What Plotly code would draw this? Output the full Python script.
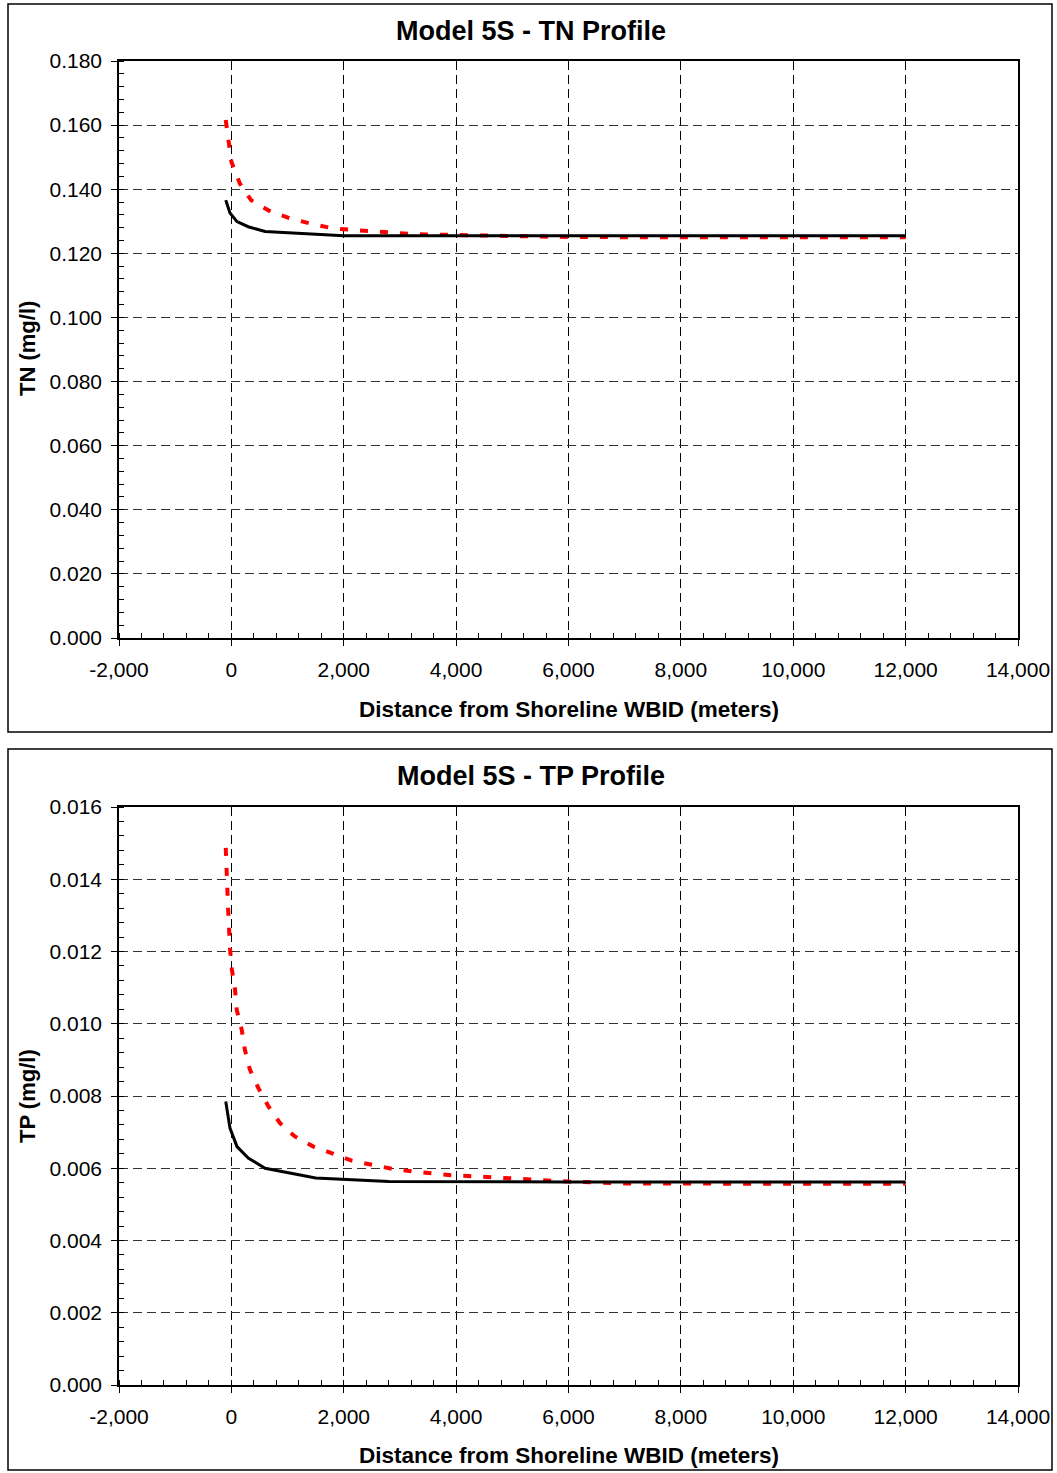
import plotly.graph_objects as go

# ---------------- data ----------------
tn_black_x = [-100, -25, 100, 300, 600, 2000, 4000, 6000, 8000, 10000, 12000]
tn_black_y = [0.1366, 0.1326, 0.1299, 0.1283, 0.1268, 0.1255, 0.1255, 0.1255, 0.1255, 0.1255, 0.1255]

tn_red_x = [-100, -50, 0, 150, 350, 700, 1050, 1450, 1800, 2150, 2500, 2900, 3250, 4000,
            5000, 6000, 8000, 10000, 12000]
tn_red_y = [0.1616, 0.1543, 0.1486, 0.1418, 0.1366, 0.1330, 0.1309, 0.1291, 0.1278, 0.1273,
            0.1268, 0.1264, 0.1260, 0.1257, 0.1253, 0.1251, 0.1250, 0.1250, 0.1250]

tp_black_x = [-100, -25, 100, 300, 600, 1500, 2800, 4000, 6000, 8000, 10000, 12000]
tp_black_y = [0.00785, 0.00711, 0.00660, 0.00628, 0.00600, 0.00573, 0.00563, 0.00562,
              0.00562, 0.00562, 0.00562, 0.00562]

tp_red_x = [-100, -80, -60, -25, 5, 65, 95, 185, 240, 330, 480, 660, 865, 1130, 1460, 1780,
            2140, 2520, 2880, 3240, 3590, 3950, 4300, 4660, 5000, 5370, 6000, 7000, 8000,
            10000, 12000]
tp_red_y = [0.01487, 0.01380, 0.01325, 0.01210, 0.01154, 0.01094, 0.01039, 0.00983, 0.00928,
            0.00873, 0.00822, 0.00771, 0.00725, 0.00688, 0.00660, 0.00642, 0.00621, 0.00609,
            0.00598, 0.00591, 0.00586, 0.00580, 0.00578, 0.00575, 0.00573, 0.00570, 0.00563,
            0.00558, 0.00557, 0.00557, 0.00557]

x_tickvals = [-2000, 0, 2000, 4000, 6000, 8000, 10000, 12000, 14000]
x_ticktext = ["-2,000", "0", "2,000", "4,000", "6,000", "8,000", "10,000", "12,000", "14,000"]

tn_tickvals = [0.0, 0.02, 0.04, 0.06, 0.08, 0.10, 0.12, 0.14, 0.16, 0.18]
tn_ticktext = ["0.000", "0.020", "0.040", "0.060", "0.080", "0.100", "0.120", "0.140", "0.160", "0.180"]
tp_tickvals = [0.0, 0.002, 0.004, 0.006, 0.008, 0.010, 0.012, 0.014, 0.016]
tp_ticktext = ["0.000", "0.002", "0.004", "0.006", "0.008", "0.010", "0.012", "0.014", "0.016"]

titles = ["Model 5S - TN Profile", "Model 5S - TP Profile"]
x_title = "Distance from Shoreline WBID (meters)"
y_titles = ["TN (mg/l)", "TP (mg/l)"]

# ---------------- layout geometry ----------------
W, H = 1057, 1473
FONT = "Liberation Sans, Arial, sans-serif"


def px_x(p):
    return p / W


def px_y(p):
    return 1 - p / H


fig = go.Figure()

red = dict(color="#FF0000", width=4, dash="8px,12px")
black = dict(color="#000000", width=3)

fig.add_trace(go.Scatter(x=tn_red_x, y=tn_red_y, mode="lines", line=red, xaxis="x", yaxis="y",
                         showlegend=False))
fig.add_trace(go.Scatter(x=tn_black_x, y=tn_black_y, mode="lines", line=black, xaxis="x", yaxis="y",
                         showlegend=False))
fig.add_trace(go.Scatter(x=tp_red_x, y=tp_red_y, mode="lines", line=red, xaxis="x2", yaxis="y2",
                         showlegend=False))
fig.add_trace(go.Scatter(x=tp_black_x, y=tp_black_y, mode="lines", line=black, xaxis="x2", yaxis="y2",
                         showlegend=False))

common_x = dict(
    range=[-2000, 14000], tickvals=x_tickvals, ticktext=x_ticktext,
    showline=True, linecolor="black", linewidth=1.5, mirror=True,
    ticks="outside", ticklen=6, tickcolor="black", tickwidth=1,
    showgrid=True, gridcolor="black", gridwidth=1, griddash="9px,5px",
    zeroline=False, automargin=False,
    minor=dict(dtick=400, tick0=0, ticks="inside", ticklen=5, tickcolor="black", showgrid=False),
    tickfont=dict(family=FONT, size=21, color="black"),
    ticklabelstandoff=6,
)
common_y = dict(
    showline=True, linecolor="black", linewidth=1.5, mirror=True,
    ticks="outside", ticklen=6, tickcolor="black", tickwidth=1,
    showgrid=True, gridcolor="#333333", gridwidth=1, griddash="9px,5px",
    zeroline=False, automargin=False,
    tickfont=dict(family=FONT, size=21, color="black"),
    ticklabelstandoff=5,
)

x_dom = [px_x(119), px_x(1018)]
fig.update_layout(
    width=W, height=H,
    margin=dict(l=0, r=0, t=0, b=0),
    paper_bgcolor="white", plot_bgcolor="white",
    font=dict(family=FONT, color="black"),
    xaxis=dict(domain=x_dom, anchor="y", **common_x),
    yaxis=dict(domain=[px_y(638), px_y(61)], anchor="x", range=[0, 0.18],
               tickvals=tn_tickvals, ticktext=tn_ticktext,
               minor=dict(dtick=0.004, tick0=0, ticks="inside", ticklen=5, tickcolor="black", showgrid=False),
               **common_y),
    xaxis2=dict(domain=x_dom, anchor="y2", **common_x),
    yaxis2=dict(domain=[px_y(1385), px_y(807)], anchor="x2", range=[0, 0.016],
                tickvals=tp_tickvals, ticktext=tp_ticktext,
                minor=dict(dtick=0.0004, tick0=0, ticks="inside", ticklen=5, tickcolor="black", showgrid=False),
                **common_y),
)

# chart borders
for (top, bot) in [(4, 732), (749, 1470)]:
    fig.add_shape(type="rect", xref="paper", yref="paper",
                  x0=px_x(8), x1=px_x(1052), y0=px_y(bot), y1=px_y(top),
                  line=dict(color="black", width=1.5), fillcolor="rgba(0,0,0,0)", layer="below")

# titles
for t, yc in zip(titles, [31, 776]):
    fig.add_annotation(text="<b>%s</b>" % t, xref="paper", yref="paper", x=px_x(531), y=px_y(yc),
                       showarrow=False, xanchor="center", yanchor="middle",
                       font=dict(family=FONT, size=27, color="black"))
for yc in [710, 1455]:
    fig.add_annotation(text="<b>%s</b>" % x_title, xref="paper", yref="paper", x=px_x(569), y=px_y(yc),
                       showarrow=False, xanchor="center", yanchor="middle",
                       font=dict(family=FONT, size=22.5, color="black"))
for t, yc in zip(y_titles, [349, 1096]):
    fig.add_annotation(text="<b>%s</b>" % t, xref="paper", yref="paper", x=px_x(27), y=px_y(yc),
                       showarrow=False, xanchor="center", yanchor="middle", textangle=-90,
                       font=dict(family=FONT, size=22, color="black"))

fig.write_html(
    "out.html",
    config={"displayModeBar": False},
    post_script="document.body.style.margin='0';document.body.style.overflow='hidden';"
                "document.documentElement.style.overflow='hidden';",
)
